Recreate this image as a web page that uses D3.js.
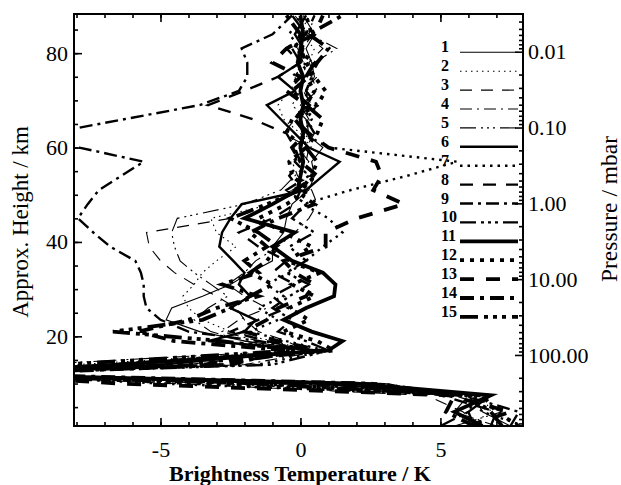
<!DOCTYPE html>
<html>
<head>
<meta charset="utf-8">
<script src="https://cdn.jsdelivr.net/npm/d3@7"></script>
<style>
  body { margin: 0; background: #fff; }
  svg text { font-family: "Liberation Serif", "Times New Roman", serif; fill: #000; }
</style>
</head>
<body>
<script>
// Brightness temperature profiles vs. approximate height

// heights (km) shared by every profile
var heights = [1, 4, 7.5, 10, 12, 14, 17, 19, 21, 23.5, 26, 28.5, 31, 33.5, 36, 39, 42, 45, 48, 51, 54, 57, 60, 63, 66, 69, 72, 75, 78, 81, 84, 88];

// brightness temperature (K), one array per profile
var bt01 = [7.5, 6.5, 6.2, -1.0, -12, -6.0, 0.5, -2.0, -3.6, -4.8, -4.6, -3.5, -2.5, -1.8, -1.0, -1.0, -0.6, -0.5, -0.3, 0.3, 0.5, 0.4, 0.8, 0.2, 0.0, 0.3, 0.2, 0.5, 0.4, 0.2, 0.5, 0.1];
var bt02 = [6.0, 6.8, 6.5, 1.5, -11.5, -8.0, 0.3, -1.0, -2.5, -3.5, -4.0, -4.2, -3.8, -3.5, -3.0, -2.3, -3.0, -3.2, -1.0, -0.3, 0.3, -0.2, 0.4, 0.0, -0.6, -0.8, -0.4, 0.0, 0.3, 0.5, 0.0, 0.3];
var bt03 = [6.5, 5.8, 4.5, -4.5, -12.5, -4.0, 0.2, -0.5, -1.5, -2.0, -2.3, -3.0, -3.8, -4.5, -5.0, -5.4, -5.5, -2.5, -0.9, -0.2, 0.5, 0.2, 0.3, -0.6, -0.2, 0.4, 0.1, 0.6, 0.3, 0.8, 0.2, 0.0];
var bt04 = [7.0, 5.5, 6.0, 3.0, -11.0, -2.0, 0.8, -1.5, -2.8, -2.2, -1.2, -2.0, -2.6, -2.0, -1.6, -0.8, -0.2, 0.3, 0.6, 0.4, -0.1, -0.3, 0.2, 0.5, 0.3, 0.0, 0.6, 0.4, 0.5, 1.3, 0.3, 0.5];
var bt05 = [5.5, 7.2, 5.5, -3.0, -12.0, -9.5, -0.2, -2.0, -3.2, -3.8, -3.3, -2.6, -3.2, -3.8, -4.3, -4.5, -4.6, -4.4, -2.0, -0.7, -0.2, 0.3, -0.1, 0.3, 0.2, -0.3, 0.0, -0.2, 0.1, -0.1, 0.3, -0.2];
var bt06 = [6.2, 6.0, 6.8, 0.5, -12.0, -5.0, 0.6, -3.3, -2.0, -1.6, -2.5, -1.8, -2.2, -2.0, -2.4, -2.9, -2.8, -2.5, -2.1, 0.2, 0.8, 1.4, 0.3, -0.2, -0.7, -1.2, -0.2, -0.8, 0.0, 0.1, -0.2, 0.2];
var bt07 = [8.0, 6.5, 6.0, -5.0, -11.8, -1.5, 0.9, -0.5, -1.8, -0.8, -1.5, -0.6, -1.2, -0.4, 0.2, 0.8, 1.5, 1.0, 0.1, 1.8, 3.8, 5.6, 1.0, 0.1, 0.4, 0.0, 0.3, -0.3, 0.2, 0.0, -0.4, 0.0];
var bt08 = [6.8, 7.0, 5.0, 3.0, -12.2, -3.0, 0.4, -1.2, -2.5, -1.5, -0.5, -1.0, -0.2, -1.0, -0.5, -1.5, -2.2, -1.0, -0.2, 0.0, -0.4, 0.0, -0.2, -0.5, -1.7, -3.3, -2.0, -0.8, 0.0, -0.5, 0.2, 0.5];
var bt09 = [7.5, 7.8, 5.8, 0.0, -12.0, -7.0, 0.3, -1.5, -4.0, -5.0, -5.5, -5.6, -5.6, -5.7, -5.9, -6.8, -7.4, -7.95, -7.6, -7.2, -6.4, -5.6, -7.9, -9.0, -6.3, -3.6, -2.2, -1.9, -1.9, -2.1, -1.0, -0.3];
var bt10 = [5.0, 6.0, 6.3, -2.0, -11.5, -1.0, 1.0, 0.2, -0.8, -0.3, -1.0, -0.4, 0.3, -0.5, 0.2, -0.4, 0.5, -0.3, 0.2, -0.5, 0.3, -0.2, 0.0, 0.5, 0.2, 0.6, 0.2, 0.4, 0.0, -0.3, 0.2, -0.3];
var bt11 = [6.5, 5.5, 6.8, 2.0, -12.5, -6.5, 1.0, 1.5, 0.4, -0.6, 0.2, 1.2, 1.25, 0.8, -0.3, -1.0, -0.2, -2.0, -1.0, -0.1, 0.0, 0.1, 0.0, 0.1, 0.0, 0.1, 0.0, 0.1, -0.1, 0.0, 0.1, 0.0];
var bt12 = [7.8, 7.0, 6.5, -3.5, -11.8, -4.5, 1.2, 0.6, -0.6, 0.3, -0.4, 0.5, -0.3, 0.7, -0.5, 0.4, -0.6, -1.5, -0.5, 0.3, -0.3, -0.4, 0.2, -0.5, -0.3, 0.6, 0.9, 0.5, 0.2, 0.0, 0.4, 0.2];
var bt13 = [6.0, 7.5, 5.3, -6.5, -12.0, -3.5, 0.7, -0.8, -2.0, -1.2, -0.8, 0.2, 0.5, -0.2, -0.6, 0.9, 0.9, 2.0, 3.7, 2.6, 2.9, 2.7, 1.0, 0.3, -0.2, 0.2, -0.5, 0.0, -1.0, -0.5, 0.5, 0.8];
var bt14 = [6.2, 5.2, 5.5, 2.5, -11.0, -2.5, -0.5, -4.5, -5.8, -4.0, -3.0, -1.5, -2.8, -1.5, -2.0, -1.2, -1.8, -0.8, 0.5, -0.2, 0.6, 0.0, -0.3, 0.2, -0.2, 0.3, -0.3, 0.3, 0.6, 1.0, 0.3, 1.5];
var bt15 = [7.2, 6.8, 6.0, -1.5, -12.8, -8.5, -0.2, -2.8, -6.7, -3.5, -2.5, -1.8, -1.0, -1.8, -1.2, -0.8, -1.5, -2.5, -1.2, 0.0, 0.4, 0.6, 0.2, 0.6, 0.8, 0.2, 0.5, 0.2, 0.5, -0.2, 0.0, -0.5];

var profiles = [bt01, bt02, bt03, bt04, bt05, bt06, bt07, bt08, bt09, bt10, bt11, bt12, bt13, bt14, bt15];
var legendLabels = ["1", "2", "3", "4", "5", "6", "7", "8", "9", "10", "11", "12", "13", "14", "15"];

// tick values / labels
var xTicks = [-5, 0, 5];
var yTicks = [20, 40, 60, 80];
var pTicks = [0.01, 0.1, 1, 10, 100];
var pLabels = ["0.01", "0.10", "1.00", "10.00", "100.00"];

var svgWidth = 621;
var svgHeight = 485;
var plot = { left: 74, right: 523, top: 14, bottom: 426 };

var svg = d3.select("body").append("svg")
  .attr("width", svgWidth)
  .attr("height", svgHeight);

// scales
var xScale = d3.scaleLinear().domain([-8.09, 7.95]).range([plot.left, plot.right]);
var yScale = d3.scaleLinear().domain([1, 88.3]).range([plot.bottom, plot.top]);
var pScale = d3.scaleLog().domain([0.00318, 865]).range([plot.top, plot.bottom]);

// line styles: 1-5 thin, 6-10 medium, 11-15 thick
function styleFor(i) {
  var group = Math.floor(i / 5), kind = i % 5;
  var width = [1.1, 2.4, 3.8][group];
  var dashes = [
    [null, "1.5,4", "12,9", "12,5,2,5", "16,5,2,4,2,4,2,5"],
    [null, "2.5,5", "13,10", "13,5,3,5", "16,5,3,4,3,4,3,5"],
    [null, "4,6", "14,12", "14,6,4,6", "18,6,4,5,4,5,4,6"]
  ][group][kind];
  return { width: width, dash: dashes };
}

svg.append("defs").append("clipPath").attr("id", "plotClip")
  .append("rect")
  .attr("x", plot.left).attr("y", plot.top)
  .attr("width", plot.right - plot.left).attr("height", plot.bottom - plot.top);

var line = d3.line()
  .x(function(d) { return xScale(d.t); })
  .y(function(d) { return yScale(d.h); });

var lineGroup = svg.append("g").attr("clip-path", "url(#plotClip)");
profiles.forEach(function(vals, i) {
  var pts = heights.map(function(h, j) { return { h: h, t: vals[j] }; });
  var st = styleFor(i);
  lineGroup.append("path")
    .datum(pts)
    .attr("d", line)
    .attr("fill", "none")
    .attr("stroke", "#000")
    .attr("stroke-width", st.width)
    .attr("stroke-dasharray", st.dash)
    .attr("stroke-linejoin", "miter");
});

// axes
var minorX = d3.range(-8, 8, 1);
var minorY = d3.range(5, 90, 5);

var bottomAxis = d3.axisBottom(xScale).tickValues(minorX).tickSizeInner(-4).tickSizeOuter(0).tickFormat("");
var bottomMajor = d3.axisBottom(xScale).tickValues(xTicks).tickSizeInner(-8).tickSizeOuter(0).tickPadding(15)
  .tickFormat(function(d) { return String(d); });
var topAxis = d3.axisTop(xScale).tickValues(minorX).tickSizeInner(-4).tickSizeOuter(0).tickFormat("");
var topMajor = d3.axisTop(xScale).tickValues(xTicks).tickSizeInner(-8).tickSizeOuter(0).tickFormat("");
var leftAxis = d3.axisLeft(yScale).tickValues(minorY).tickSizeInner(-4).tickSizeOuter(0).tickFormat("");
var leftMajor = d3.axisLeft(yScale).tickValues(yTicks).tickSizeInner(-8).tickSizeOuter(0).tickPadding(6)
  .tickFormat(function(d) { return String(d); });

var pMinor = [];
[0.001, 0.01, 0.1, 1, 10, 100].forEach(function(dec) {
  for (var k = 2; k <= 9; k++) {
    var v = dec * k;
    if (v > 0.00318 && v < 865) pMinor.push(v);
  }
});
var rightMinor = d3.axisRight(pScale).tickValues(pMinor).tickSizeInner(-4).tickSizeOuter(0).tickFormat("");
var rightMajor = d3.axisRight(pScale).tickValues(pTicks).tickSizeInner(-8).tickSizeOuter(0).tickPadding(5)
  .tickFormat(function(d, i) { return pLabels[i]; });

function styleAxis(g) {
  g.select(".domain").remove();
  g.selectAll("line").attr("stroke", "#000").attr("stroke-width", 1.6);
  g.selectAll("text").attr("font-size", 22).attr("font-family", "Liberation Serif").attr("fill", "#000");
}

svg.append("g").attr("transform", "translate(0," + plot.bottom + ")").call(bottomAxis).call(styleAxis);
svg.append("g").attr("transform", "translate(0," + plot.bottom + ")").call(bottomMajor).call(styleAxis);
svg.append("g").attr("transform", "translate(0," + plot.top + ")").call(topAxis).call(styleAxis);
svg.append("g").attr("transform", "translate(0," + plot.top + ")").call(topMajor).call(styleAxis);
svg.append("g").attr("transform", "translate(" + plot.left + ",0)").call(leftAxis).call(styleAxis);
svg.append("g").attr("transform", "translate(" + plot.left + ",0)").call(leftMajor).call(styleAxis);
svg.append("g").attr("transform", "translate(" + plot.right + ",0)").call(rightMinor).call(styleAxis);
svg.append("g").attr("transform", "translate(" + plot.right + ",0)").call(rightMajor).call(styleAxis);

// frame
svg.append("rect")
  .attr("x", plot.left).attr("y", plot.top)
  .attr("width", plot.right - plot.left).attr("height", plot.bottom - plot.top)
  .attr("fill", "none").attr("stroke", "#000").attr("stroke-width", 2);

// axis titles
svg.append("text")
  .attr("x", 300).attr("y", 481)
  .attr("text-anchor", "middle")
  .attr("font-size", 22).attr("font-weight", "bold")
  .text("Brightness Temperature / K");

svg.append("text")
  .attr("transform", "translate(28,222) rotate(-90)")
  .attr("text-anchor", "middle")
  .attr("font-size", 23)
  .text("Approx. Height / km");

svg.append("text")
  .attr("transform", "translate(617,209) rotate(-90)")
  .attr("text-anchor", "middle")
  .attr("font-size", 23.5)
  .text("Pressure / mbar");

// legend
var legend = svg.append("g");
legendLabels.forEach(function(lab, i) {
  var ly = 52.3 + i * 18.9;
  var st = styleFor(i);
  legend.append("text")
    .attr("x", 441).attr("y", ly)
    .attr("font-size", 16).attr("font-weight", "bold")
    .text(lab);
  legend.append("line")
    .attr("x1", 460).attr("x2", 518)
    .attr("y1", ly).attr("y2", ly)
    .attr("stroke", "#000")
    .attr("stroke-width", st.width)
    .attr("stroke-dasharray", st.dash);
});
</script>
</body>
</html>
